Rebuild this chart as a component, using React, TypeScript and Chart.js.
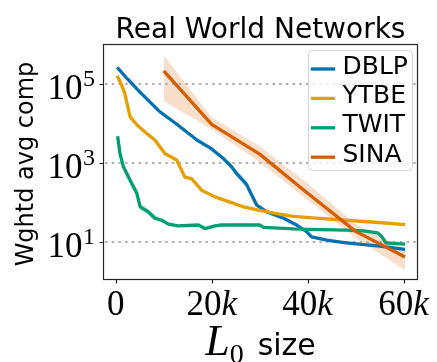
import React, { useEffect, useRef } from "react";
import { Chart, registerables } from "chart.js";

Chart.register(...registerables);

const seriesNames = ["DBLP", "YTBE", "TWIT", "SINA"];
const seriesColors = ["#0072B2", "#E69F00", "#009E73", "#D55E00"];
const bandColors = [
  "rgba(0,114,178,0.2)",
  "rgba(230,159,0,0.2)",
  "rgba(0,158,115,0.2)",
  "rgba(213,94,0,0.2)",
];

const dblpX = [300, 2500, 5000, 9000, 13000, 17000, 20000, 22500, 24000, 25200, 26500, 27300, 28000, 29400, 31500, 35000, 37700, 39800, 40800, 44000, 48000, 55000, 60300];
const dblpY = [257000, 129000, 61700, 20400, 8900, 3720, 2240, 1260, 832, 537, 363, 282, 186, 85, 57.5, 39.8, 26.9, 18.2, 13.5, 11.2, 9.5, 7.9, 6.5];
const dblpSpread = [0.01, 0.01, 0.01, 0.01, 0.01, 0.01, 0.02, 0.02, 0.04, 0.08, 0.1, 0.08, 0.04, 0.02, 0.02, 0.02, 0.02, 0.02, 0.02, 0.02, 0.02, 0.02, 0.02];

const ytbeX = [300, 1200, 1900, 3000, 4500, 6100, 8200, 10300, 12700, 14400, 15800, 17900, 20700, 23800, 26600, 30000, 33500, 37000, 42500, 48000, 54000, 60300];
const ytbeY = [158000, 93300, 56200, 14500, 8900, 6030, 3720, 1700, 1175, 437, 398, 204, 138, 102, 77.6, 63, 52.5, 44.7, 39.8, 35.5, 31.6, 27.5];
const ytbeSpread = [0.05, 0.13, 0.13, 0.05, 0.02, 0.01, 0.01, 0.01, 0.01, 0.01, 0.01, 0.01, 0.01, 0.01, 0.01, 0.01, 0.01, 0.01, 0.01, 0.01, 0.01, 0.01];

const twitX = [400, 900, 1600, 3000, 4400, 5100, 6800, 8200, 9600, 11000, 13000, 17200, 18600, 20700, 22000, 30000, 30800, 37000, 40000, 48000, 51600, 54600, 55500, 56300, 60300];
const twitY = [4680, 1700, 794, 363, 170, 77.6, 57.5, 39.8, 35.5, 28.2, 25.7, 26.9, 21.9, 25.7, 26.9, 26.9, 23.4, 21.4, 20.9, 20.0, 19.1, 17.0, 13.5, 9.5, 8.9];
const twitSpread = [0.03, 0.05, 0.08, 0.1, 0.1, 0.1, 0.08, 0.08, 0.06, 0.04, 0.03, 0.02, 0.02, 0.02, 0.02, 0.02, 0.02, 0.02, 0.02, 0.02, 0.02, 0.02, 0.02, 0.02, 0.02];

const sinaX = [10000, 20000, 30000, 40000, 50000, 60300];
const sinaY = [209000, 9330, 1660, 170, 18.6, 4.2];
const sinaLow = [36300, 7080, 1050, 115, 12.6, 1.95];
const sinaHigh = [513000, 14100, 2630, 302, 28.2, 6.9];

const yTickValues = [10, 1000, 100000];
const yTickExponents = ["1", "3", "5"];
const xTickValues = [0, 20000, 40000, 60000];
const xTickNumbers = ["0", "20", "40", "60"];
const xTickSuffix = ["", "k", "k", "k"];

const titleText = "Real World Networks";
const yLabelText = "Wghtd avg comp";
const xLabelMain = "L";
const xLabelSub = "0";
const xLabelRest = "size";

const SERIF = "'Liberation Serif', 'DejaVu Serif', serif";
const SANS = "'DejaVu Sans', sans-serif";

function pts(xs: number[], ys: number[]) {
  return xs.map((x, i) => ({ x, y: ys[i] }));
}

function bandDatasets(xs: number[], lo: number[], hi: number[], color: string) {
  return [
    {
      data: pts(xs, lo),
      borderWidth: 0,
      pointRadius: 0,
      fill: false,
      order: 10,
      backgroundColor: color,
      borderColor: "rgba(0,0,0,0)",
    },
    {
      data: pts(xs, hi),
      borderWidth: 0,
      pointRadius: 0,
      fill: "-1",
      order: 10,
      backgroundColor: color,
      borderColor: "rgba(0,0,0,0)",
    },
  ];
}

function spreadLo(ys: number[], s: number[]) {
  return ys.map((v, i) => v / Math.pow(10, s[i]));
}
function spreadHi(ys: number[], s: number[]) {
  return ys.map((v, i) => v * Math.pow(10, s[i]));
}

const drawPlugin = {
  id: "customDraw",
  beforeDatasetsDraw(chart: any) {
    const { ctx, chartArea } = chart;
    const y = chart.scales.y;
    ctx.save();
    ctx.strokeStyle = "#b0b0b0";
    ctx.lineWidth = 2;
    ctx.setLineDash([2.5, 4.2]);
    for (const v of yTickValues) {
      const py = Math.round(y.getPixelForValue(v));
      ctx.beginPath();
      ctx.moveTo(chartArea.left + 2, py);
      ctx.lineTo(chartArea.right, py);
      ctx.stroke();
    }
    ctx.restore();
  },
  afterDraw(chart: any) {
    const { ctx, chartArea } = chart;
    const { left, right, top, bottom } = chartArea;
    const xs = chart.scales.x;
    const ys = chart.scales.y;
    ctx.save();

    ctx.strokeStyle = "#262626";
    ctx.lineWidth = 1.2;
    ctx.strokeRect(left + 0.5, top + 0.5, right - left - 1, bottom - top - 1);

    ctx.beginPath();
    for (const v of yTickValues) {
      const py = Math.round(ys.getPixelForValue(v)) + 0.5;
      ctx.moveTo(left - 3.5, py);
      ctx.lineTo(left, py);
    }
    for (const v of xTickValues) {
      const px = Math.round(xs.getPixelForValue(v)) + 0.5;
      ctx.moveTo(px, bottom);
      ctx.lineTo(px, bottom + 3.5);
    }
    ctx.stroke();

    ctx.fillStyle = "#000";
    yTickValues.forEach((v, i) => {
      const py = ys.getPixelForValue(v);
      ctx.font = `24px ${SERIF}`;
      const supW = ctx.measureText(yTickExponents[i]).width;
      const rightEdge = 95;
      ctx.textAlign = "left";
      ctx.textBaseline = "alphabetic";
      ctx.fillText(yTickExponents[i], rightEdge - supW, py + 2);
      ctx.font = `35px ${SERIF}`;
      ctx.textAlign = "right";
      ctx.fillText("10", rightEdge - supW - 0.5, py + 15);
    });

    xTickValues.forEach((v, i) => {
      const px = xs.getPixelForValue(v);
      ctx.font = `35px ${SERIF}`;
      const w1 = ctx.measureText(xTickNumbers[i]).width;
      ctx.font = `italic 35px ${SERIF}`;
      const w2 = xTickSuffix[i] ? ctx.measureText(xTickSuffix[i]).width : 0;
      const start = px - (w1 + w2) / 2;
      ctx.textAlign = "left";
      ctx.textBaseline = "alphabetic";
      ctx.font = `35px ${SERIF}`;
      ctx.fillText(xTickNumbers[i], start, 315);
      if (xTickSuffix[i]) {
        ctx.font = `italic 35px ${SERIF}`;
        ctx.fillText(xTickSuffix[i], start + w1, 315);
      }
    });

    ctx.font = `28px ${SANS}`;
    ctx.textAlign = "center";
    ctx.textBaseline = "alphabetic";
    ctx.fillText(titleText, (left + right) / 2, 37.5);

    ctx.save();
    ctx.translate(33, 164);
    ctx.rotate(-Math.PI / 2);
    ctx.font = `24px ${SANS}`;
    ctx.textAlign = "center";
    ctx.fillText(yLabelText, 0, 0);
    ctx.restore();

    ctx.textAlign = "left";
    ctx.font = `italic 44px ${SERIF}`;
    const wL = ctx.measureText(xLabelMain).width;
    ctx.font = `28px ${SERIF}`;
    const wSub = ctx.measureText(xLabelSub).width;
    ctx.font = `30px ${SANS}`;
    const wRest = ctx.measureText(xLabelRest).width;
    const gap = 14;
    const total = wL + wSub + gap + wRest;
    let sx = (left + right) / 2 - total / 2;
    const base = 355;
    ctx.font = `italic 44px ${SERIF}`;
    ctx.fillText(xLabelMain, sx, base);
    sx += wL;
    ctx.font = `28px ${SERIF}`;
    ctx.fillText(xLabelSub, sx, base + 8);
    sx += wSub + gap;
    ctx.font = `30px ${SANS}`;
    ctx.fillText(xLabelRest, sx, base);

    const lx = 308.5, ly = 50.5, lw = 104, lh = 120, r = 4;
    ctx.beginPath();
    ctx.moveTo(lx + r, ly);
    ctx.lineTo(lx + lw - r, ly);
    ctx.quadraticCurveTo(lx + lw, ly, lx + lw, ly + r);
    ctx.lineTo(lx + lw, ly + lh - r);
    ctx.quadraticCurveTo(lx + lw, ly + lh, lx + lw - r, ly + lh);
    ctx.lineTo(lx + r, ly + lh);
    ctx.quadraticCurveTo(lx, ly + lh, lx, ly + lh - r);
    ctx.lineTo(lx, ly + r);
    ctx.quadraticCurveTo(lx, ly, lx + r, ly);
    ctx.closePath();
    ctx.fillStyle = "rgba(255,255,255,0.8)";
    ctx.fill();
    ctx.strokeStyle = "#d6d6d6";
    ctx.lineWidth = 1;
    ctx.stroke();

    seriesNames.forEach((name, i) => {
      const cy = 69 + i * 29.4;
      ctx.strokeStyle = seriesColors[i];
      ctx.lineWidth = 3.3;
      ctx.beginPath();
      ctx.moveTo(311, cy);
      ctx.lineTo(335, cy);
      ctx.stroke();
      ctx.fillStyle = "#000";
      ctx.font = `25px ${SANS}`;
      ctx.textAlign = "left";
      ctx.textBaseline = "alphabetic";
      ctx.fillText(name, 342.5, cy + 4.5);
    });

    ctx.restore();
  },
};

export default function App() {
  const canvasRef = useRef<HTMLCanvasElement | null>(null);

  useEffect(() => {
    const canvas = canvasRef.current;
    if (!canvas) return;

    const lineDs = (xs: number[], ys: number[], i: number, order: number) => ({
      label: seriesNames[i],
      data: pts(xs, ys),
      borderColor: seriesColors[i],
      backgroundColor: seriesColors[i],
      borderWidth: 3.3,
      pointRadius: 0,
      fill: false,
      tension: 0,
      borderJoinStyle: "round",
      borderCapStyle: "butt",
      order,
    });

    const datasets: any[] = [];
    datasets.push(...bandDatasets(dblpX, spreadLo(dblpY, dblpSpread), spreadHi(dblpY, dblpSpread), bandColors[0]));
    datasets.push(...bandDatasets(ytbeX, spreadLo(ytbeY, ytbeSpread), spreadHi(ytbeY, ytbeSpread), bandColors[1]));
    datasets.push(...bandDatasets(twitX, spreadLo(twitY, twitSpread), spreadHi(twitY, twitSpread), bandColors[2]));
    datasets.push(...bandDatasets(sinaX, sinaLow, sinaHigh, bandColors[3]));
    datasets.push(lineDs(dblpX, dblpY, 0, 4));
    datasets.push(lineDs(ytbeX, ytbeY, 1, 3));
    datasets.push(lineDs(twitX, twitY, 2, 2));
    datasets.push(lineDs(sinaX, sinaY, 3, 1));

    const chart = new Chart(canvas, {
      type: "line",
      data: { datasets },
      options: {
        animation: false,
        responsive: false,
        maintainAspectRatio: false,
        events: [],
        layout: { padding: { top: 44, right: 19, left: 0, bottom: 0 } },
        plugins: {
          legend: { display: false },
          title: { display: false },
          tooltip: { enabled: false },
          filler: { drawTime: "beforeDatasetsDraw" },
        } as any,
        scales: {
          x: {
            type: "linear",
            min: -2650,
            max: 63000,
            grid: { display: false },
            border: { display: false },
            ticks: { display: false },
            afterFit: (s: any) => {
              s.height = 82;
            },
          },
          y: {
            type: "logarithmic",
            min: 1.1,
            max: 1000000,
            grid: { display: false },
            border: { display: false },
            ticks: { display: false },
            afterFit: (s: any) => {
              s.width = 103;
            },
          },
        },
      },
      plugins: [drawPlugin],
    } as any);

    return () => chart.destroy();
  }, []);

  return (
    <div style={{ position: "absolute", left: 0, top: 0, width: 437, height: 362, background: "#fff" }}>
      <canvas ref={canvasRef} width={437} height={362} style={{ width: 437, height: 362 }} />
    </div>
  );
}
